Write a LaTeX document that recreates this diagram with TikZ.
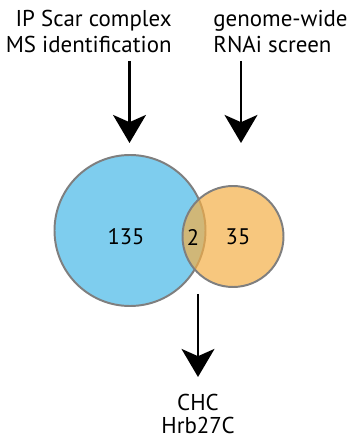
\documentclass[tikz,border=0pt]{standalone}
\usepackage{fontspec}
\setmainfont{PT Sans}
\usepackage{tikz}
\usetikzlibrary{arrows.meta}
\usepackage{xcolor}
\definecolor{setblue}{HTML}{7ECDEE}
\definecolor{setorange}{HTML}{F4AF47}
\definecolor{rimgray}{HTML}{7F7F7F}

\begin{document}
\begin{tikzpicture}[line width=0.6pt, x=1cm, y=1cm,
    bigarrow/.style={-{Stealth[length=0.7cm,width=0.82cm,inset=0.18cm]}, line width=2.1pt},
    setlabel/.style={inner sep=0pt, font=\fontsize{16.3}{19.2}\selectfont},
    countlabel/.style={inner sep=0pt, font=\fontsize{16}{17}\selectfont}]
    \useasboundingbox (0,0) rectangle (8.75,11.025);
    % source labels (anchored at the last baseline)
    \node[setlabel, align=right, anchor=base east] (ms) at (4.3,9.7)
        {IP Scar complex\\MS identification};
    \node[setlabel, align=left, anchor=base west] (rnai) at (5.325,9.7)
        {genome-wide\\RNAi screen};
    % arrow ends
    \coordinate (msTop) at (3.2375,9.5);
    \coordinate (msTip) at (3.2375,7.45);
    \coordinate (rnaiTop) at (6.025,9.5);
    \coordinate (rnaiTip) at (6.025,7.45);
    \draw[bigarrow] (msTop) -- (msTip);
    \draw[bigarrow] (rnaiTop) -- (rnaiTip);
    % the two sets
    \draw[rimgray, line width=1.4pt, fill=setblue] (3.25,5.2625) circle (1.8875);
    \draw[rimgray, line width=1.4pt, fill=setorange, fill opacity=0.7] (5.825,5.1125) circle (1.2625);
    \node[countlabel] (msOnly) at (3.15,5.1) {135};
    \node[countlabel] (both) at (4.825,5.1) {2};
    \node[countlabel] (rnaiOnly) at (5.95,5.1) {35};
    % result
    \coordinate (hitTop) at (4.95,3.675);
    \coordinate (hitTip) at (4.95,1.6);
    \draw[bigarrow] (hitTop) -- (hitTip);
    \node[setlabel, align=center, anchor=base, font=\fontsize{16.3}{16}\selectfont] (hits) at (4.95,0.2)
        {CHC\\Hrb27C};
\end{tikzpicture}
\end{document}
